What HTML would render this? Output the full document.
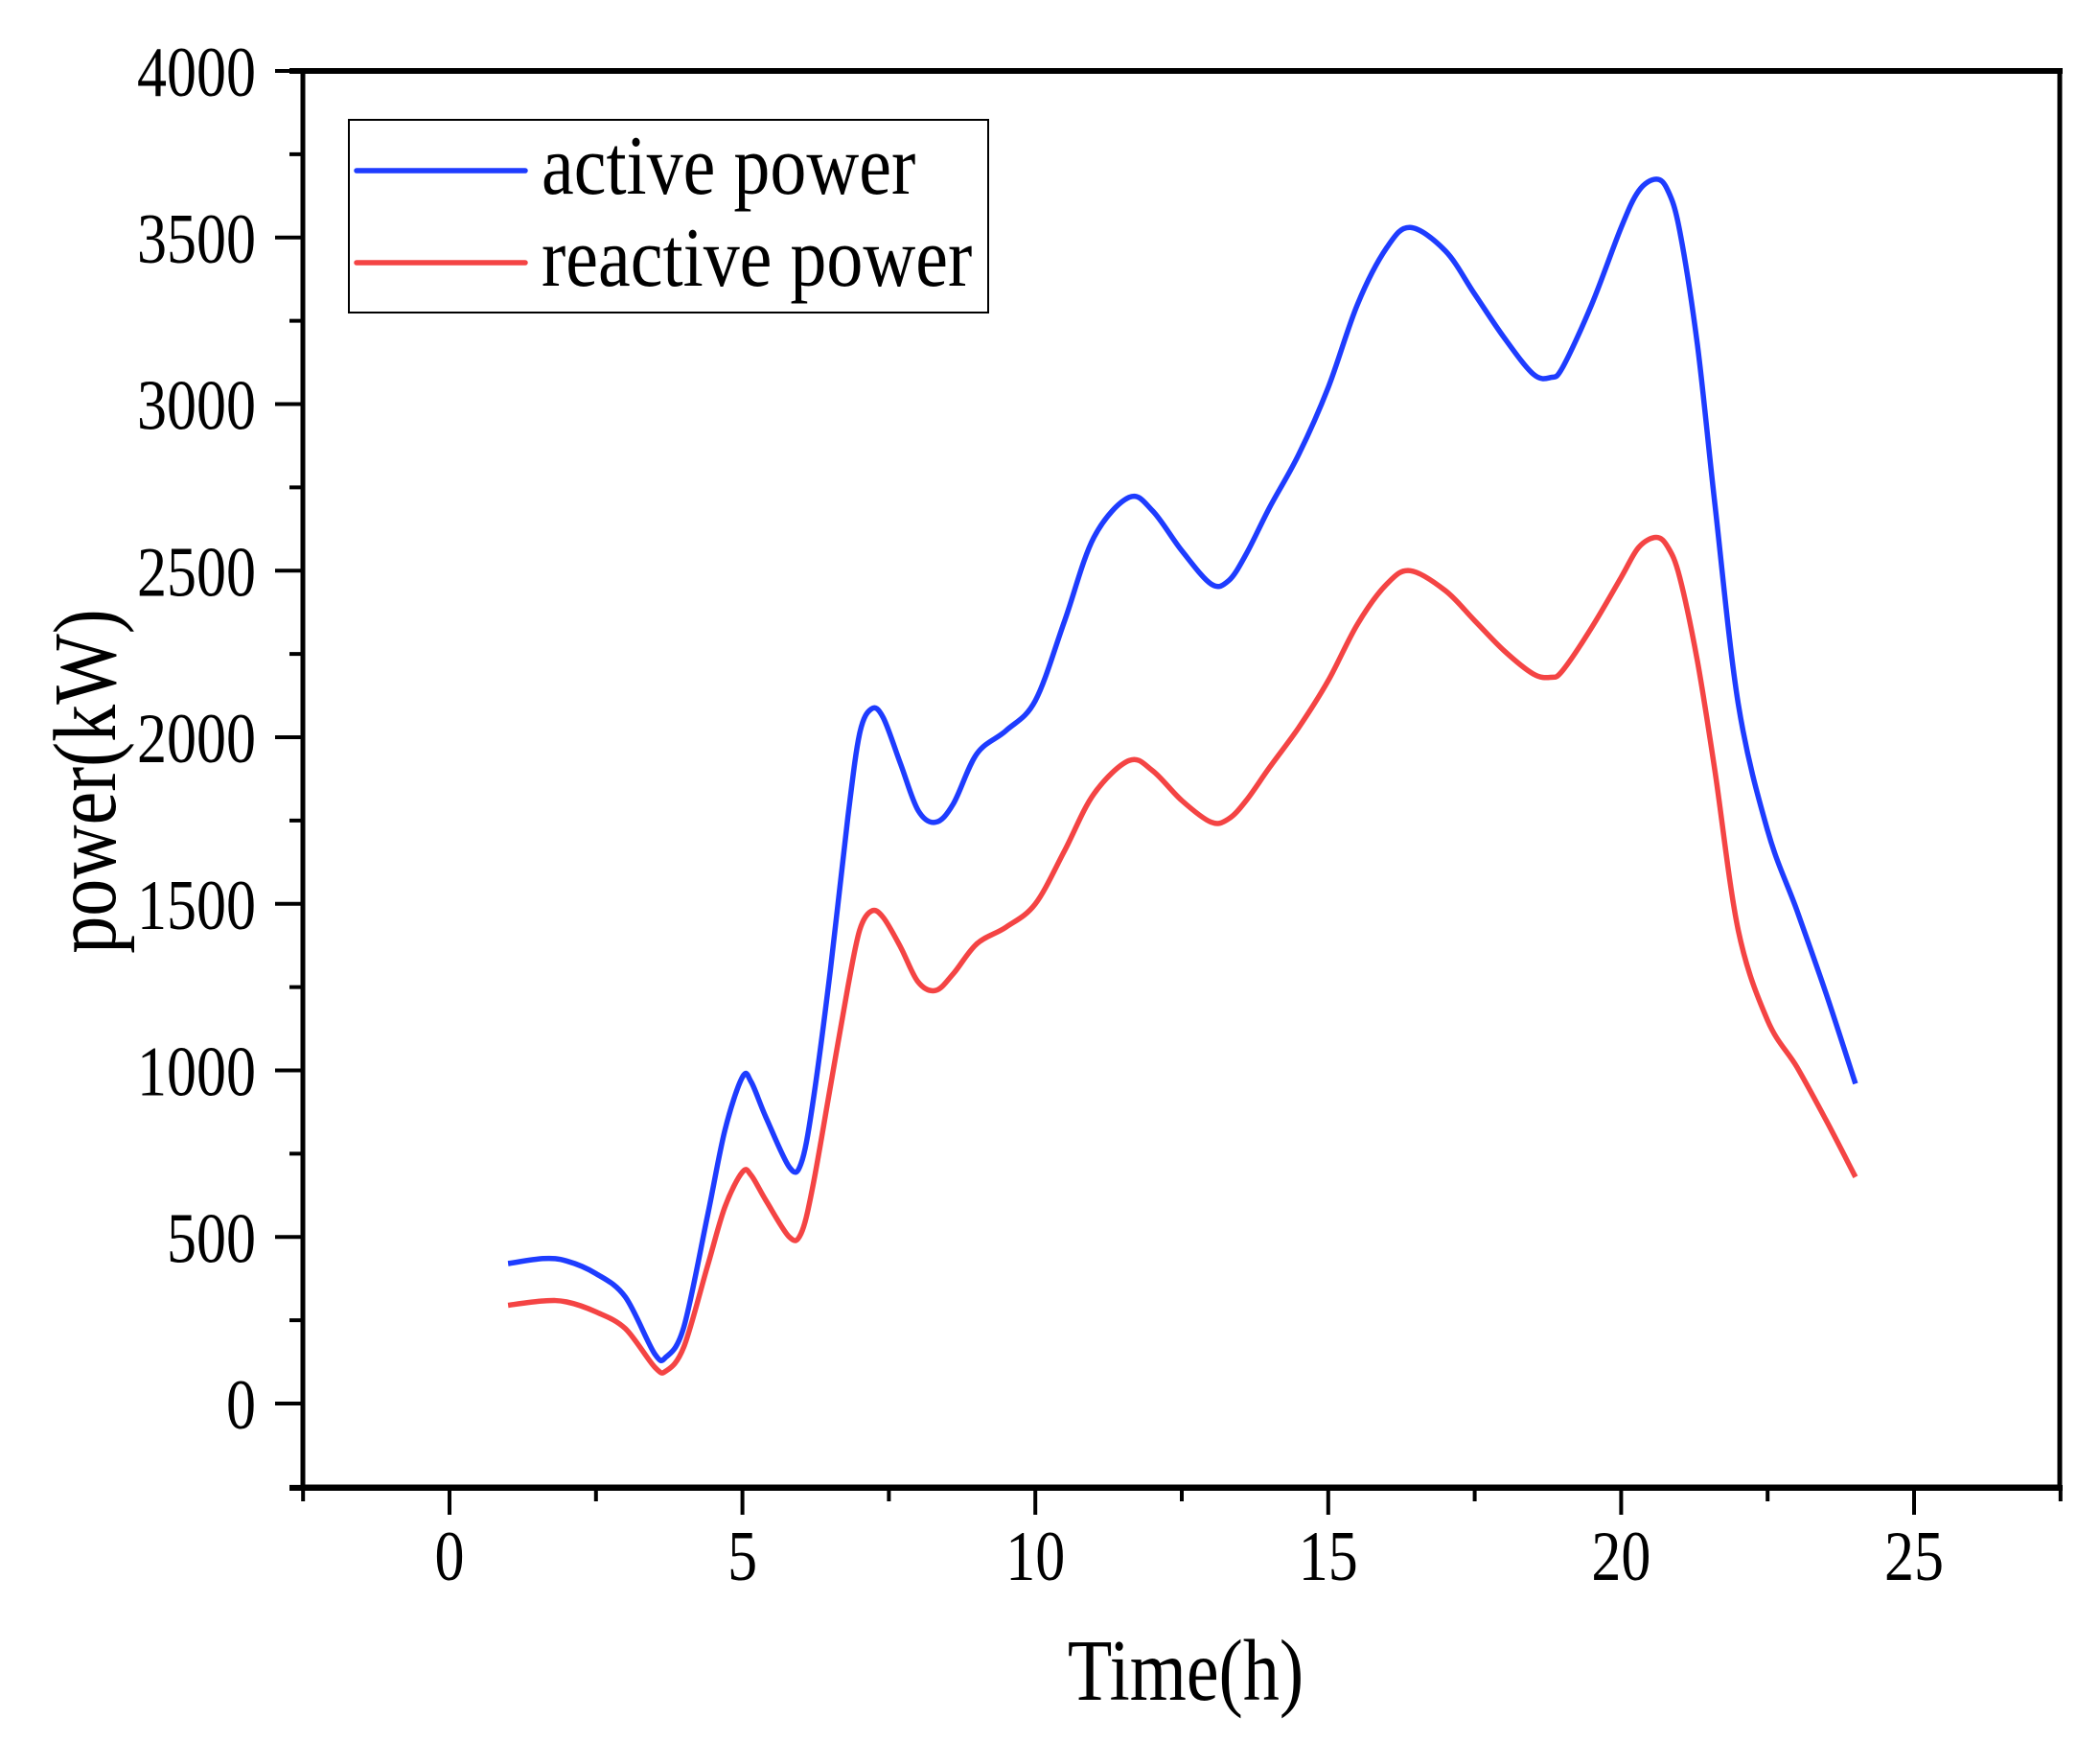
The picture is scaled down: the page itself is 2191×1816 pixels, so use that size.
<!DOCTYPE html>
<html><head><meta charset="utf-8"><style>
html,body{margin:0;padding:0;background:#fff;}
svg{display:block;}
text{font-family:"Liberation Serif",serif;fill:#000;}
</style></head><body>
<svg id="s" width="2191" height="1816" viewBox="0 0 2191 1816" xmlns="http://www.w3.org/2000/svg">
<rect width="2191" height="1816" fill="#fff"/>
<g id="ticks" stroke="#000" stroke-width="4"></g>
<path id="blue" fill="none" stroke="#1e3cff" stroke-width="5.5" stroke-linejoin="round"/>
<path id="red" fill="none" stroke="#f44444" stroke-width="5.5" stroke-linejoin="round"/>
<rect x="316" y="74" width="1833" height="1477" fill="none" stroke="#000" stroke-width="5"/>
<line x1="302" y1="1552" x2="2152" y2="1552" stroke="#000" stroke-width="6"/>
<line x1="302" y1="74" x2="2152" y2="74" stroke="#000" stroke-width="6"/>
<g id="labels" font-size="62"></g>
<g transform="translate(1237,1773) scale(1,1.2)"><text x="0" y="0" font-size="76" text-anchor="middle">Time(h)</text></g>
<g transform="translate(120,815) rotate(-90) scale(1,1.2)"><text x="0" y="0" font-size="78" text-anchor="middle">power(kW)</text></g>
<rect x="364" y="125" width="667" height="201" fill="#fff" stroke="#000" stroke-width="2"/>
<line x1="372" y1="178" x2="548" y2="178" stroke="#1e3cff" stroke-width="5.5" stroke-linecap="round"/>
<line x1="372" y1="274" x2="548" y2="274" stroke="#f44444" stroke-width="5.5" stroke-linecap="round"/>
<g transform="translate(565,202) scale(1,1.15)"><text x="0" y="0" font-size="76">active power</text></g>
<g transform="translate(565,298) scale(1,1.15)"><text x="0" y="0" font-size="76">reactive power</text></g>
</svg>
<script>
var X=function(h){return 469+h*61.12;}, Y=function(v){return 1464-v*0.3475;};
var tk=document.getElementById('ticks'), lb=document.getElementById('labels'), NS='http://www.w3.org/2000/svg';
function ln(a,b,c,d){var l=document.createElementNS(NS,'line');l.setAttribute('x1',a);l.setAttribute('y1',b);l.setAttribute('x2',c);l.setAttribute('y2',d);tk.appendChild(l);}
function tx(x,y,s,anc){var g=document.createElementNS(NS,'g');g.setAttribute('transform','translate('+x+','+y+') scale(1,1.2)');var t=document.createElementNS(NS,'text');t.setAttribute('x',0);t.setAttribute('y',0);t.setAttribute('text-anchor',anc);t.textContent=s;g.appendChild(t);lb.appendChild(g);}
for(var v=-250;v<=4000;v+=250){var y=Y(v);if(v%500==0){ln(287,y,316,y);tx(267,y+26,String(v),'end');}else ln(302,y,316,y);}
for(var h=-2.5;h<=27.5;h+=2.5){var x=X(h);if(h%5==0){ln(x,1552,x,1580);tx(x,1648,String(h),'middle');}else ln(x,1552,x,1566);}
var B=[[1,420],[1.6,435],[2,428],[2.5,390],[3,320],[3.5,150],[3.7,140],[4,230],[4.4,560],[4.7,820],[5,980],[5.15,965],[5.4,860],[5.8,710],[6,720],[6.2,900],[6.5,1300],[6.8,1760],[7,2010],[7.2,2085],[7.4,2060],[7.7,1920],[8,1780],[8.3,1745],[8.6,1800],[9,1950],[9.5,2020],[10,2110],[10.5,2350],[11,2600],[11.6,2720],[12,2680],[12.5,2560],[13,2460],[13.3,2470],[13.6,2550],[14,2690],[14.5,2850],[15,3050],[15.5,3300],[16,3470],[16.4,3530],[17,3460],[17.5,3330],[18,3200],[18.5,3090],[18.8,3080],[19,3110],[19.5,3300],[20,3530],[20.3,3640],[20.6,3675],[20.8,3640],[21,3520],[21.3,3180],[21.6,2700],[22,2100],[22.5,1720],[23,1480],[23.5,1230],[24,960]];
var R=[[1,295],[1.6,308],[2,305],[2.5,275],[3,225],[3.5,110],[3.7,98],[4,170],[4.4,410],[4.7,590],[5,695],[5.15,685],[5.4,610],[5.8,500],[6,510],[6.2,650],[6.5,950],[6.8,1250],[7,1420],[7.2,1478],[7.4,1460],[7.7,1370],[8,1265],[8.3,1240],[8.6,1290],[9,1380],[9.5,1430],[10,1500],[10.5,1660],[11,1830],[11.6,1930],[12,1900],[12.5,1810],[13,1745],[13.3,1755],[13.6,1810],[14,1910],[14.5,2030],[15,2170],[15.5,2340],[16,2460],[16.4,2500],[17,2440],[17.5,2350],[18,2260],[18.5,2190],[18.8,2180],[19,2200],[19.5,2330],[20,2480],[20.3,2570],[20.6,2600],[20.8,2570],[21,2480],[21.3,2230],[21.6,1900],[22,1420],[22.5,1150],[23,1010],[23.5,850],[24,680]];
function path(P){var p=P.map(function(a){return [X(a[0]),Y(a[1])];});var d='M'+p[0][0].toFixed(1)+','+p[0][1].toFixed(1);
for(var i=0;i<p.length-1;i++){var p0=p[i-1]||p[i],p1=p[i],p2=p[i+1],p3=p[i+2]||p2;
var c1=[p1[0]+(p2[0]-p0[0])/6,p1[1]+(p2[1]-p0[1])/6],c2=[p2[0]-(p3[0]-p1[0])/6,p2[1]-(p3[1]-p1[1])/6];
d+='C'+c1[0].toFixed(1)+','+c1[1].toFixed(1)+' '+c2[0].toFixed(1)+','+c2[1].toFixed(1)+' '+p2[0].toFixed(1)+','+p2[1].toFixed(1);}return d;}
document.getElementById('blue').setAttribute('d',path(B));
document.getElementById('red').setAttribute('d',path(R));
</script>
</body></html>
